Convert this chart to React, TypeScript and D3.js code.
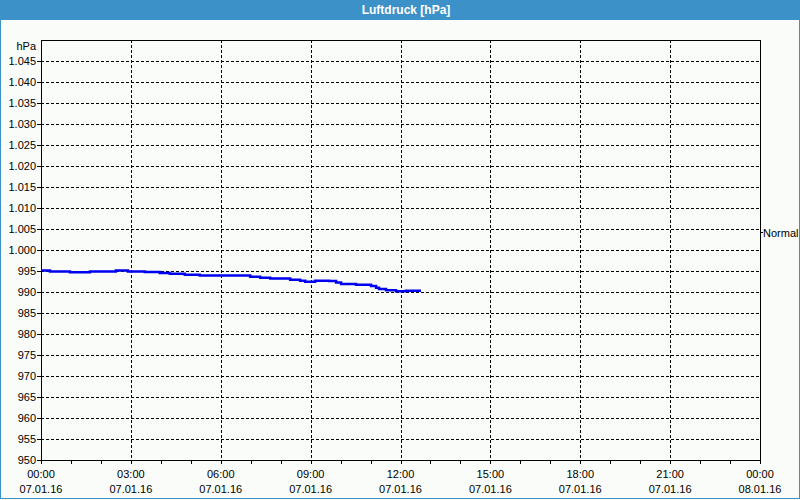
import React from "react";
import * as d3 from "d3";

const TITLE = "Luftdruck [hPa]";
const UNIT = "hPa";
const REF_LABEL = "Normal";
const REF_VALUE = 1004.3;

// pressure readings: time of day (07.01.16) and value in hPa
const times = [
  "00:00", "00:18", "00:58", "01:38", "02:30", "02:54", "03:28", "03:58",
  "04:18", "04:48", "05:18", "06:59", "07:19", "07:39", "08:19", "08:39",
  "08:49", "09:09", "09:37", "09:51", "10:01", "10:31", "11:01", "11:11",
  "11:17", "11:31", "11:51", "12:11", "12:41",
];
const values = [
  995.1, 994.9, 994.7, 994.9, 995.1, 994.9, 994.75, 994.55,
  994.35, 994.1, 993.9, 993.65, 993.4, 993.2, 992.9, 992.65,
  992.45, 992.7, 992.6, 992.25, 991.9, 991.7, 991.4, 991.0,
  990.7, 990.4, 990.2, 990.3, 990.3,
];

const yTicks = [950, 955, 960, 965, 970, 975, 980, 985, 990, 995, 1000, 1005, 1010, 1015, 1020, 1025, 1030, 1035, 1040, 1045];
const xTickHours = [0, 3, 6, 9, 12, 15, 18, 21, 24];
const xTimeLabels = ["00:00", "03:00", "06:00", "09:00", "12:00", "15:00", "18:00", "21:00", "00:00"];
const xDateLabels = ["07.01.16", "07.01.16", "07.01.16", "07.01.16", "07.01.16", "07.01.16", "07.01.16", "07.01.16", "08.01.16"];

const W = 800;
const H = 500;
const L = 41, R = 760, T = 40, B = 460;
const FONT = "'Liberation Sans', Arial, sans-serif";

function toMin(s: string) {
  const [h, m] = s.split(":").map(Number);
  return h * 60 + m;
}

function fmtY(v: number) {
  if (v >= 1000) return "1." + String(v - 1000).padStart(3, "0");
  return String(v);
}

export default function App() {
  const x = d3.scaleLinear().domain([0, 1440]).range([L, R]);
  const y = d3.scaleLinear().domain([950, 1050]).range([B, T]);
  const data = times.map((t, i) => ({ t: toMin(t), v: values[i] }));
  const line = d3
    .line<{ t: number; v: number }>()
    .x((d) => x(d.t))
    .y((d) => y(d.v))
    .curve(d3.curveStepAfter);
  const hours = d3.range(0, 25);
  const bg = "#f9fcf9";
  const blue = "#3c91c8";

  return (
    <svg
      width={W}
      height={H}
      style={{ position: "fixed", left: 0, top: 0, background: bg }}
      fontFamily={FONT}
    >
      <rect x={0} y={0} width={W} height={H} fill={bg} />
      <rect x={0} y={0} width={W} height={20} fill={blue} />
      <rect x={0.5} y={0.5} width={W - 1} height={H - 2} fill="none" stroke={blue} strokeWidth={1} />
      <text x={406} y={14} fill="#ffffff" fontSize={12} fontWeight="bold" textAnchor="middle">
        {TITLE}
      </text>

      {/* horizontal grid */}
      {yTicks.filter((v) => v > 950).map((v) => (
        <line key={"hg" + v} x1={L} x2={R} y1={Math.round(y(v)) + 0.5} y2={Math.round(y(v)) + 0.5}
          stroke="#000" strokeDasharray="3,2" shapeRendering="crispEdges" />
      ))}
      {/* vertical grid */}
      {xTickHours.filter((h) => h > 0 && h < 24).map((h) => (
        <line key={"vg" + h} x1={Math.round(x(h * 60)) + 0.5} x2={Math.round(x(h * 60)) + 0.5} y1={T} y2={B}
          stroke="#000" strokeDasharray="3,2" shapeRendering="crispEdges" />
      ))}

      {/* frame */}
      <rect x={L + 0.5} y={T + 0.5} width={R - L} height={B - T} fill="none" stroke="#000" shapeRendering="crispEdges" />

      {/* y ticks and labels */}
      {yTicks.map((v) => (
        <g key={"yt" + v}>
          <line x1={L - 4} x2={L} y1={Math.round(y(v)) + 0.5} y2={Math.round(y(v)) + 0.5} stroke="#000" shapeRendering="crispEdges" />
          <text x={36} y={y(v) + 4} fontSize={11} textAnchor="end" fill="#000">
            {fmtY(v)}
          </text>
        </g>
      ))}
      <text x={36} y={50} fontSize={11} textAnchor="end" fill="#000">{UNIT}</text>

      {/* x ticks */}
      {hours.map((h) => (
        <line key={"xt" + h} x1={Math.round(x(h * 60)) + 0.5} x2={Math.round(x(h * 60)) + 0.5} y1={B} y2={B + 4}
          stroke="#000" shapeRendering="crispEdges" />
      ))}
      {xTickHours.map((h, i) => (
        <g key={"xl" + h}>
          <text x={x(h * 60)} y={478} fontSize={11} textAnchor="middle" fill="#000">{xTimeLabels[i]}</text>
          <text x={x(h * 60)} y={493} fontSize={11} textAnchor="middle" fill="#000">{xDateLabels[i]}</text>
        </g>
      ))}

      {/* reference marker */}
      <line x1={R} x2={R + 3} y1={Math.round(y(REF_VALUE)) + 0.5} y2={Math.round(y(REF_VALUE)) + 0.5} stroke="#000" shapeRendering="crispEdges" />
      <text x={763} y={y(REF_VALUE) + 5} fontSize={11} fill="#000">{REF_LABEL}</text>

      {/* data */}
      <path d={line(data) || ""} fill="none" stroke="#0000f0" strokeWidth={2.5} />
    </svg>
  );
}
